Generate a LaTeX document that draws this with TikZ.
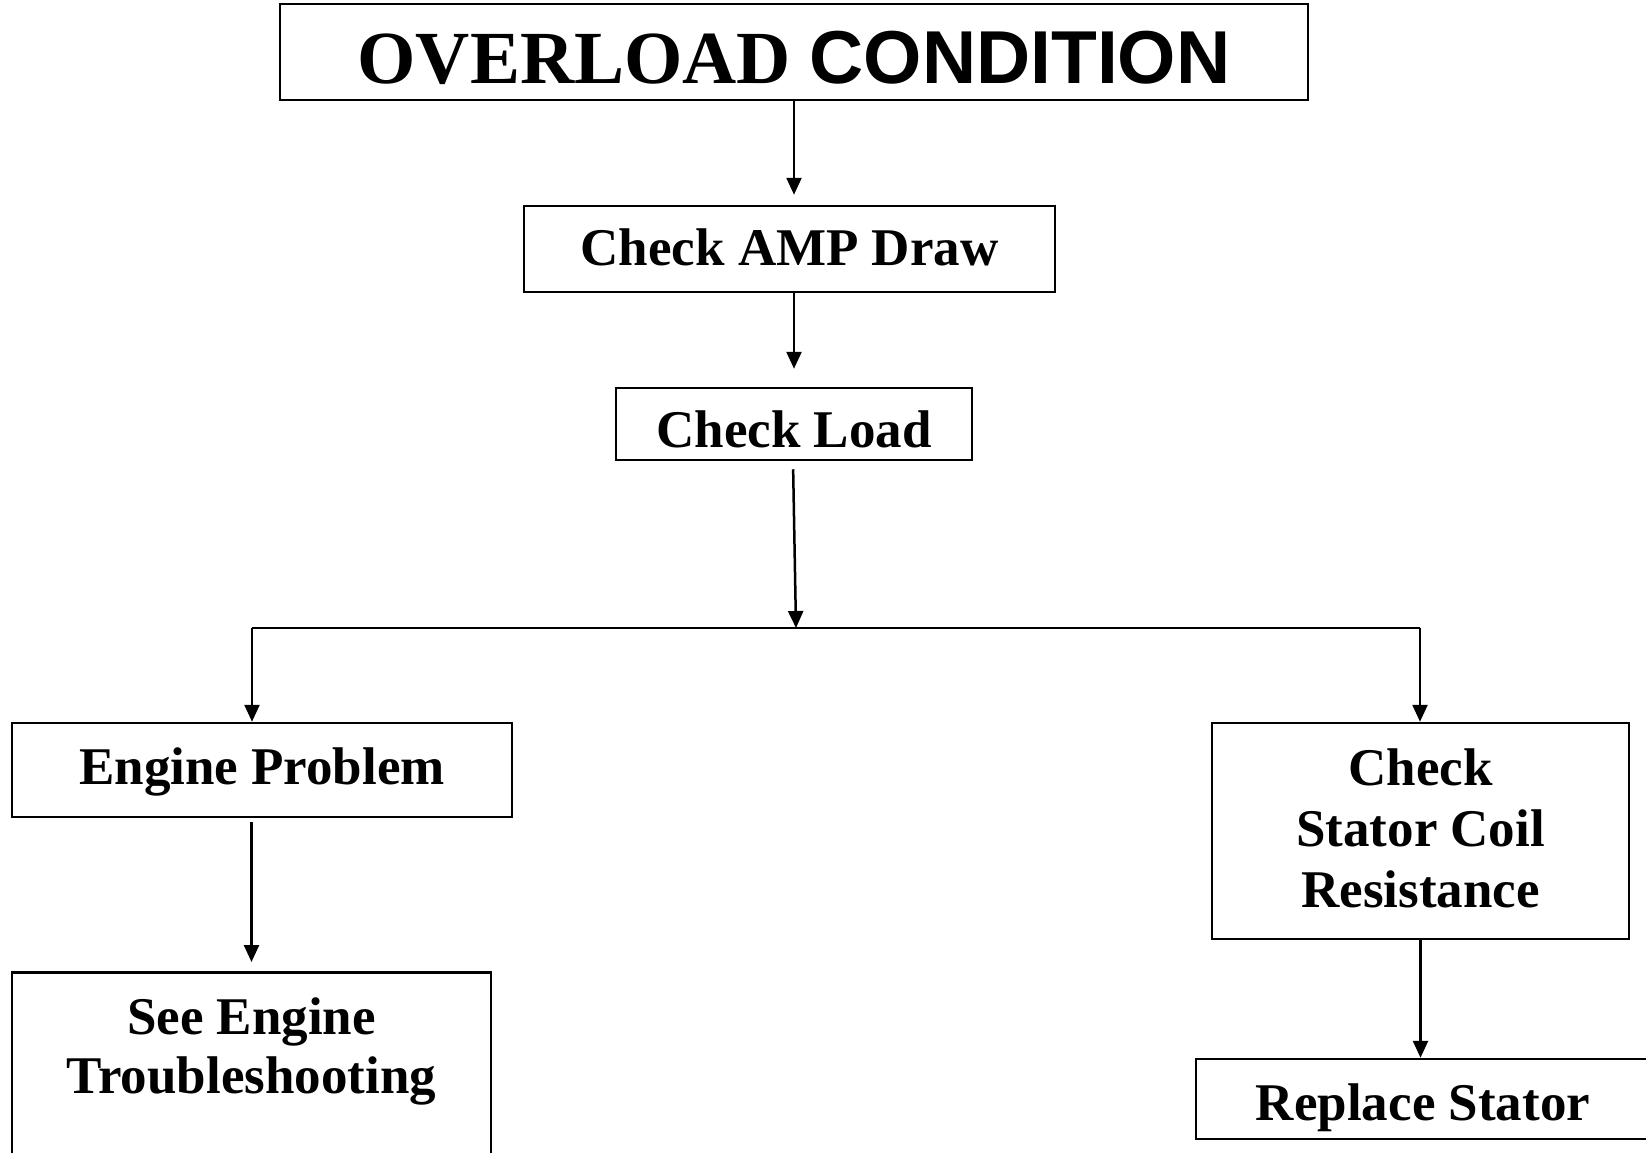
\documentclass[tikz,border=0pt]{standalone}
\usepackage{fontspec}
\setmainfont{Liberation Serif}
\newfontfamily\titlesans{Liberation Sans}
\usetikzlibrary{positioning,arrows.meta}
\newcommand\tightspace{\spaceskip=13pt plus 0pt minus 0pt\relax}

\begin{document}
\begin{tikzpicture}[x=1pt,y=-1pt,
block/.style={draw=black, line width=2.5pt, inner sep=2pt, align=center,
  font=\fontsize{53}{61}\selectfont\bfseries},
arrow/.style={line width=2.5pt, -{Triangle[length=17pt,width=15pt]}}
]
\useasboundingbox (0,0) rectangle (1646,1153);
\clip (0,0) rectangle (1646,1153);

\node[block, minimum width=1028pt, minimum height=96pt, text height=70pt, text depth=6pt,
  font=\fontsize{75}{80}\selectfont\bfseries](overload) at (794,52)
  {OVERLOAD {\titlesans CONDITION}};

\node[block, minimum width=531pt, minimum height=86pt, text height=40pt, text depth=8pt]
  (amp_draw)[below=103.5pt of overload, xshift=-4.5pt]{Check AMP Draw};
\node[block, minimum width=356pt, minimum height=72pt, text height=49pt, text depth=2pt]
  (check_load)[below=93.5pt of amp_draw, xshift=4.5pt]{Check Load};

\coordinate (split) at (796,628);
\coordinate (split_left) at (252,628);
\coordinate (split_right) at (1420,628);

\node[block, minimum width=500pt, minimum height=94pt, text height=40pt, text depth=12pt]
  (engine_problem) at (262,770){Engine Problem};
\node[block, text width=413pt, minimum height=216pt, text height=36pt, text depth=128pt]
  (stator_coil) at (1420.5,831){\tightspace Check\\Stator Coil\\Resistance};

\node[block, anchor=north, inner sep=0pt, text width=479pt, text height=62pt, text depth=200pt,
  font=\fontsize{53}{59}\selectfont\bfseries]
  (see_engine) at (251.5,971){\tightspace See Engine\\Troubleshooting};
\node[block, minimum width=454pt, minimum height=80pt, text height=48pt, text depth=6pt]
  (replace_stator) at (1423,1099){Replace Stator};

\draw[arrow, shorten >=10pt] (overload.south) -- (overload.south |- amp_draw.north);
\draw[arrow, shorten >=18pt] (check_load.north |- amp_draw.south) -- (check_load.north);
\draw[arrow, shorten <=8pt] ([xshift=-1pt]check_load.south) -- (split);
\draw[line width=2.5pt] (split_left) -- (split_right);
\draw[arrow] (split_left) -- (split_left |- engine_problem.north);
\draw[arrow] (split_right) -- (split_right |- stator_coil.north);
\draw[arrow, shorten <=4pt, shorten >=9pt] (see_engine.north |- engine_problem.south) -- (see_engine.north);
\draw[arrow] (stator_coil.south) -- (stator_coil.south |- replace_stator.north);
\end{tikzpicture}
\end{document}
